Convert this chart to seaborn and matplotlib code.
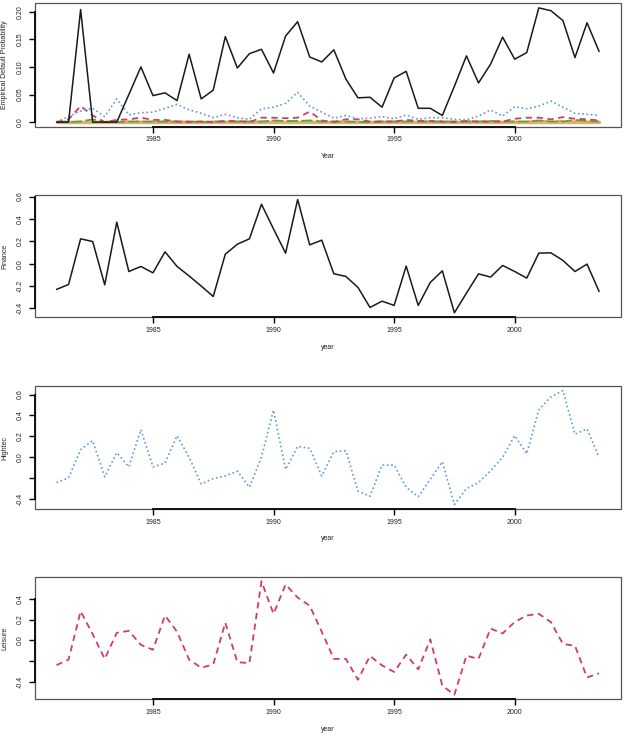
import numpy as np
import pandas as pd
import seaborn as sns
import matplotlib.pyplot as plt
from matplotlib.patches import Rectangle

# half-yearly observations, 1981.0 .. 2003.5
years = np.arange(1981.0, 2003.75, 0.5)

# empirical default probabilities by rating class
dp_black = [0.0, 0.0, 0.204, 0.0, 0.0, 0.0, 0.050, 0.100, 0.048, 0.053,
            0.039, 0.123, 0.042, 0.058, 0.155, 0.098, 0.124, 0.132, 0.089, 0.156,
            0.182, 0.118, 0.109, 0.131, 0.078, 0.044, 0.045, 0.027, 0.080, 0.092,
            0.025, 0.025, 0.012, 0.065, 0.120, 0.071, 0.105, 0.154, 0.114, 0.126,
            0.207, 0.202, 0.184, 0.117, 0.180, 0.128]
dp_blue = [0.0, 0.010, 0.020, 0.025, 0.010, 0.042, 0.013, 0.017, 0.018, 0.025,
           0.032, 0.022, 0.016, 0.008, 0.014, 0.008, 0.005, 0.024, 0.027, 0.034,
           0.054, 0.029, 0.018, 0.007, 0.012, 0.006, 0.007, 0.010, 0.006, 0.013,
           0.005, 0.008, 0.008, 0.005, 0.004, 0.011, 0.022, 0.011, 0.028, 0.024,
           0.029, 0.038, 0.027, 0.016, 0.014, 0.012]
dp_red = [0.0, 0.005, 0.029, 0.012, 0.0, 0.004, 0.005, 0.008, 0.004, 0.004,
          0.001, 0.0, 0.001, 0.0, 0.002, 0.002, 0.0, 0.008, 0.008, 0.007,
          0.008, 0.019, 0.003, 0.0, 0.005, 0.005, 0.001, 0.001, 0.001, 0.004,
          0.002, 0.002, 0.001, 0.0, 0.002, 0.001, 0.001, 0.001, 0.006, 0.008,
          0.008, 0.005, 0.009, 0.006, 0.005, 0.003]
dp_green = [0.0, 0.0, 0.001, 0.005, 0.0, 0.0, 0.001, 0.001, 0.001, 0.001,
            0.001, 0.001, 0.0, 0.001, 0.001, 0.001, 0.001, 0.001, 0.003, 0.002,
            0.002, 0.003, 0.001, 0.001, 0.001, 0.0, 0.0, 0.001, 0.001, 0.001,
            0.001, 0.001, 0.001, 0.001, 0.001, 0.001, 0.002, 0.001, 0.001, 0.001,
            0.003, 0.001, 0.001, 0.004, 0.002, 0.001]
dp_orange = [0.001] * 18 + [0.002] * 4 + [0.001] * 18 + [0.002] * 3 + [0.001] * 3
dp_tan = [0.0] * 46

finance = [-0.230, -0.186, 0.222, 0.198, -0.189, 0.371, -0.070, -0.025, -0.082, 0.106,
           -0.025, -0.110, -0.200, -0.293, 0.085, 0.174, 0.222, 0.531, 0.310, 0.094,
           0.573, 0.168, 0.210, -0.090, -0.114, -0.212, -0.391, -0.335, -0.373, -0.022,
           -0.373, -0.168, -0.064, -0.439, -0.263, -0.091, -0.120, -0.016, -0.070, -0.129,
           0.094, 0.097, 0.029, -0.070, -0.004, -0.248]
hightec = [-0.245, -0.200, 0.071, 0.158, -0.190, 0.042, -0.094, 0.265, -0.094, -0.058,
           0.206, -0.003, -0.258, -0.206, -0.181, -0.135, -0.290, 0.000, 0.452, -0.119,
           0.103, 0.084, -0.181, 0.052, 0.061, -0.326, -0.377, -0.077, -0.077, -0.290,
           -0.381, -0.213, -0.045, -0.455, -0.303, -0.245, -0.132, -0.003, 0.206, 0.032,
           0.455, 0.577, 0.639, 0.219, 0.271, -0.003]
leisure = [-0.239, -0.186, 0.280, 0.060, -0.179, 0.072, 0.091, -0.044, -0.091, 0.239,
           0.082, -0.186, -0.264, -0.233, 0.170, -0.211, -0.220, 0.569, 0.255, 0.538,
           0.412, 0.333, 0.082, -0.179, -0.179, -0.380, -0.151, -0.242, -0.305, -0.138,
           -0.280, 0.009, -0.437, -0.525, -0.148, -0.179, 0.113, 0.066, 0.176, 0.239,
           0.255, 0.176, -0.035, -0.053, -0.358, -0.318]

xticks = [1985, 1990, 1995, 2000]

BLUE = '#5f9bd6'
RED = '#d23a6e'
GREEN = '#5aa832'
ORANGE = '#f0a030'
TAN = '#d9b37c'

sns.set_theme(style="ticks")
plt.rcParams['font.family'] = ['Liberation Sans', 'DejaVu Sans']
plt.rcParams['axes.linewidth'] = 0.8


def r_range(values):
    lo, hi = np.min(values), np.max(values)
    pad = 0.04 * (hi - lo)
    return lo - pad, hi + pad


def style_axes(ax, yticks, ylabels, ylabel, xlabel, yrange):
    ax.set_xlim(*r_range(years))
    ax.set_ylim(*yrange)
    ax.set_xticks(xticks)
    ax.set_xticklabels([str(t) for t in xticks])
    ax.set_yticks(yticks)
    ax.set_yticklabels(ylabels, rotation=90, va='center', ha='center')
    ax.xaxis.set_ticks_position('bottom')
    ax.yaxis.set_ticks_position('left')
    ax.tick_params(axis='both', which='major', labelsize=5, length=4.5, width=1.0,
                   color='#000000', labelcolor='#222222', direction='out')
    ax.tick_params(axis='y', pad=6)
    ax.tick_params(axis='x', pad=2.5)
    for side in ['top', 'right']:
        ax.spines[side].set_visible(False)
    ax.spines['bottom'].set_bounds(xticks[0], xticks[-1])
    ax.spines['left'].set_bounds(yticks[0], yticks[-1])
    for side in ['bottom', 'left']:
        ax.spines[side].set_color('#111111')
        ax.spines[side].set_linewidth(1.4)
    ax.add_patch(Rectangle((0, 0), 1, 1, transform=ax.transAxes, fill=False,
                           ec='#555555', lw=0.9, zorder=2, clip_on=False))
    ax.set_ylabel(ylabel, fontsize=5, labelpad=6, color='#222222')
    ax.set_xlabel(xlabel, fontsize=5, labelpad=7, color='#222222')
    ax.grid(False)


fig = plt.figure(figsize=(6.27, 7.39), dpi=100)
left, width = 0.0555, 0.9346
ax1 = fig.add_axes([left, 0.8286, width, 0.1669])
ax2 = fig.add_axes([left, 0.5706, width, 0.1655])
ax3 = fig.add_axes([left, 0.3112, width, 0.1665])
ax4 = fig.add_axes([left, 0.0537, width, 0.1659])

# panel 1: default probabilities
sns.lineplot(x=years, y=dp_tan, ax=ax1, color=TAN, lw=2.5, linestyle='-')
sns.lineplot(x=years, y=dp_orange, ax=ax1, color=ORANGE, lw=1.2, linestyle=(0, (1, 2, 4, 2)))
sns.lineplot(x=years, y=dp_green, ax=ax1, color=GREEN, lw=1.3, linestyle=(0, (6, 2)))
sns.lineplot(x=years, y=dp_red, ax=ax1, color=RED, lw=1.3, linestyle=(0, (3.5, 2.5)))
sns.lineplot(x=years, y=dp_blue, ax=ax1, color=BLUE, lw=1.2, linestyle=(0, (1, 1.6)))
sns.lineplot(x=years, y=dp_black, ax=ax1, color='#1a1a1a', lw=1.1)
all_dp = np.concatenate([dp_black, dp_blue, dp_red, dp_green, dp_orange, dp_tan])
style_axes(ax1, [0.0, 0.05, 0.10, 0.15, 0.20], ['0.0', '0.05', '0.10', '0.15', '0.20'],
           'Empirical Default Probability', 'Year', r_range(all_dp))

# panel 2: Finance
sns.lineplot(x=years, y=finance, ax=ax2, color='#1a1a1a', lw=1.1)
style_axes(ax2, [-0.4, -0.2, 0.0, 0.2, 0.4, 0.6], ['-0.4', '-0.2', '0.0', '0.2', '0.4', '0.6'],
           'Finance', 'year', r_range(finance))

# panel 3: Hightec
sns.lineplot(x=years, y=hightec, ax=ax3, color=BLUE, lw=1.2, linestyle=(0, (1, 1.6)))
style_axes(ax3, [-0.4, -0.2, 0.0, 0.2, 0.4, 0.6], ['-0.4', '', '0.0', '0.2', '0.4', '0.6'],
           'Hightec', 'year', r_range(hightec))

# panel 4: Leisure
sns.lineplot(x=years, y=leisure, ax=ax4, color=RED, lw=1.3, linestyle=(0, (3.5, 2.5)))
style_axes(ax4, [-0.4, -0.2, 0.0, 0.2, 0.4], ['-0.4', '', '0.0', '0.2', '0.4'],
           'Leisure', 'year', r_range(leisure))

fig.savefig('out.png', dpi=100, facecolor='white')
